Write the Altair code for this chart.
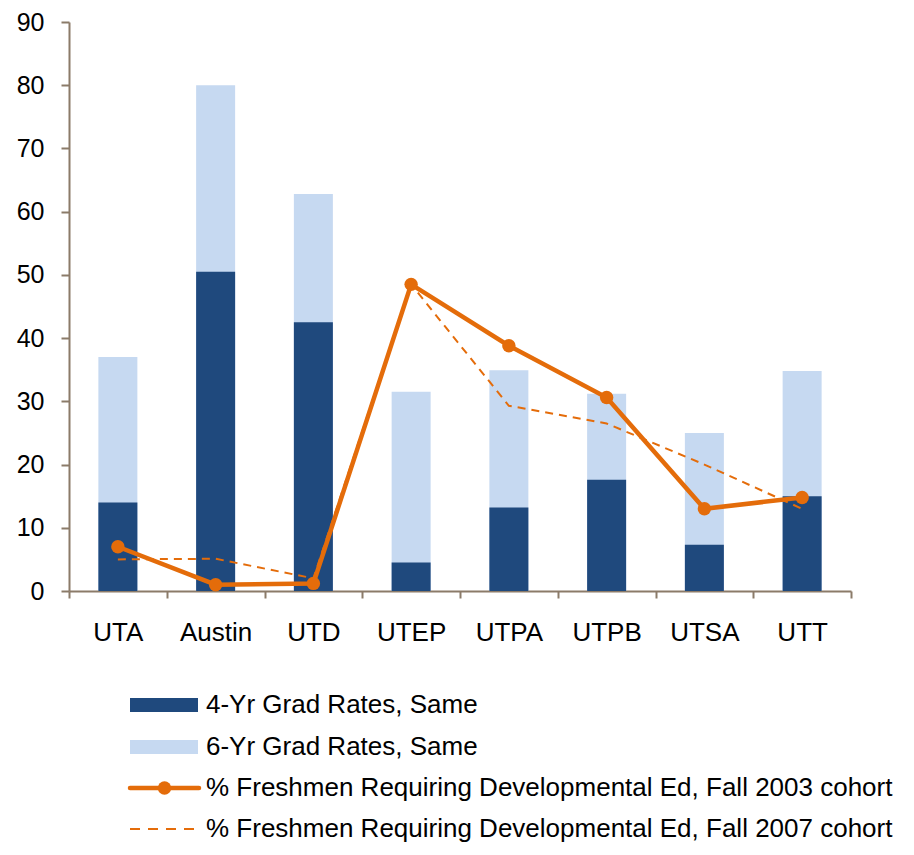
import altair as alt
import pandas as pd

campuses = ["UTA", "Austin", "UTD", "UTEP", "UTPA", "UTPB", "UTSA", "UTT"]
grad4 = [14.0, 50.5, 42.5, 4.5, 13.2, 17.6, 7.3, 15.0]
grad6 = [37.0, 80.0, 62.8, 31.5, 34.9, 31.2, 25.0, 34.8]
dev2003 = [7.0, 1.0, 1.2, 48.5, 38.8, 30.6, 13.0, 14.8]
dev2007 = [5.0, 5.1, 2.0, 48.5, 29.3, 26.5, 20.0, 13.0]
y_ticks = list(range(0, 91, 10))
legend_labels = [
    "4-Yr Grad Rates, Same",
    "6-Yr Grad Rates, Same",
    "% Freshmen Requiring Developmental Ed, Fall 2003 cohort",
    "% Freshmen Requiring Developmental Ed, Fall 2007 cohort",
]

DARK = "#1F497D"
LIGHT = "#C6D9F1"
ORANGE = "#E46C0A"
AXIS = "#8B7B69"
FONT = "Liberation Sans"
FS = 26
LEG_FS = 26

df = pd.DataFrame({
    "campus": campuses,
    "idx": list(range(len(campuses))),
    "grad4": grad4,
    "grad6": grad6,
    "dev2003": dev2003,
    "dev2007": dev2007,
})

x_enc = alt.X(
    "campus:N",
    sort=campuses,
    scale=alt.Scale(paddingInner=0, paddingOuter=0),
    axis=alt.Axis(title=None, labelAngle=0, tickBand="extent", tickSize=7,
                  labelPadding=21),
)
y_scale = alt.Scale(domain=[0, 90], nice=False, zero=True)
y_axis = alt.Axis(title=None, values=y_ticks, tickSize=8, labelPadding=17,
                  labelFontSize=25)

base = alt.Chart(df)

bar6 = base.mark_bar(width=39, color=LIGHT).encode(
    x=x_enc, y=alt.Y("grad6:Q", scale=y_scale, axis=y_axis)
)
bar4 = base.mark_bar(width=39, color=DARK).encode(
    x=x_enc, y=alt.Y("grad4:Q", scale=y_scale)
)
line07 = base.mark_line(color=ORANGE, strokeWidth=2, strokeDash=[8, 6]).encode(
    x=x_enc, y=alt.Y("dev2007:Q", scale=y_scale), order="idx:Q"
)
line03 = base.mark_line(color=ORANGE, strokeWidth=4.5).encode(
    x=x_enc, y=alt.Y("dev2003:Q", scale=y_scale), order="idx:Q"
)
pts03 = base.mark_point(filled=True, color=ORANGE, size=180, opacity=1).encode(
    x=x_enc, y=alt.Y("dev2003:Q", scale=y_scale)
)

layers = [bar6, bar4, line07, line03, pts03]

# manual legend below the plot
leg_df = pd.DataFrame({"label": legend_labels, "row": list(range(4))})
row_y = [683, 725, 766, 807]
sym_x0, sym_x1, text_x = 61, 129, 137
for i, lab in enumerate(legend_labels):
    d = alt.Chart(leg_df[leg_df["row"] == i])
    yv = alt.value(row_y[i])
    if i == 0:
        sym = d.mark_rule(color=DARK, strokeWidth=14).encode(
            x=alt.value(sym_x0), x2=alt.value(sym_x1), y=yv)
        layers.append(sym)
    elif i == 1:
        sym = d.mark_rule(color=LIGHT, strokeWidth=14).encode(
            x=alt.value(sym_x0), x2=alt.value(sym_x1), y=yv)
        layers.append(sym)
    elif i == 2:
        sym = d.mark_rule(color=ORANGE, strokeWidth=4.5, strokeCap="round").encode(
            x=alt.value(sym_x0), x2=alt.value(sym_x1 + 1), y=yv)
        dot = d.mark_point(filled=True, color=ORANGE, size=180, opacity=1).encode(
            x=alt.value((sym_x0 + sym_x1) / 2 + 0.5), y=yv)
        layers += [sym, dot]
    else:
        sym = d.mark_rule(color=ORANGE, strokeWidth=2, strokeDash=[10, 8]).encode(
            x=alt.value(sym_x0), x2=alt.value(sym_x1), y=yv)
        layers.append(sym)
    txt = d.mark_text(align="left", baseline="middle", font=FONT, fontSize=LEG_FS,
                      color="black").encode(
        x=alt.value(text_x), y=yv, text="label:N")
    layers.append(txt)

chart = alt.layer(*layers).properties(
    width=782, height=569,
    autosize=alt.AutoSizeParams(type="none"),
    padding={"left": 61, "top": 14, "right": 55, "bottom": 251},
).configure_view(stroke=None).configure_axis(
    grid=False,
    domainColor=AXIS, domainWidth=2,
    tickColor=AXIS, tickWidth=2,
    labelFont=FONT, labelFontSize=FS, labelColor="black",
)

chart.save("out.html", embed_options={"renderer": "svg", "actions": False})
